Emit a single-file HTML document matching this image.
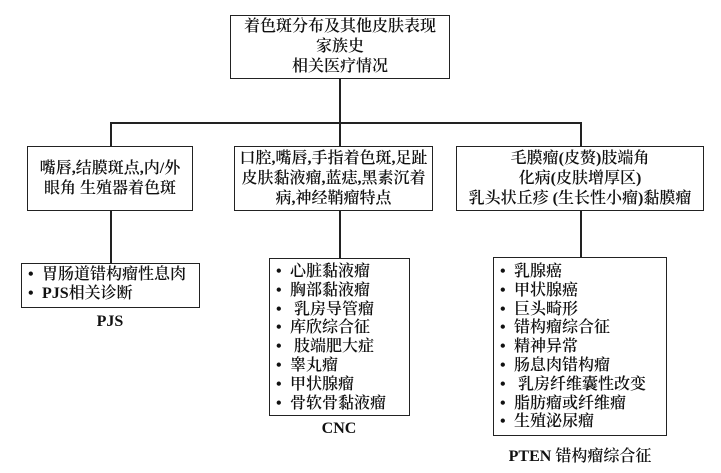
<!DOCTYPE html>
<html><head><meta charset="utf-8"><style>
html,body{margin:0;padding:0;background:#fff;}
body{width:721px;height:473px;position:relative;overflow:hidden;font-family:"Liberation Serif","Noto Serif CJK SC",serif;color:#111;font-weight:600;}
.b{position:absolute;border:1.5px solid #222;box-sizing:border-box;}
.c{text-align:center;font-size:16px;line-height:20px;display:flex;flex-direction:column;justify-content:center;align-items:center;}
.l{position:absolute;background:#222;}
ul{list-style:none;margin:0;padding:0;}
.list{font-size:16px;line-height:18.8px;padding-left:6px;padding-top:4px;}
.list li::before{content:"•";display:inline-block;width:14px;}
.lab{position:absolute;font-size:16px;text-align:center;}
</style></head><body>
<div class="b c" style="left:230px;top:15px;width:220px;height:64px;"><div>着色斑分布及其他皮肤表现</div><div>家族史</div><div>相关医疗情况</div></div>
<div class="l" style="left:339px;top:78px;width:1.5px;height:46px;"></div>
<div class="l" style="left:110px;top:122px;width:471px;height:1.5px;"></div>
<div class="l" style="left:110px;top:122px;width:1.5px;height:25px;"></div>
<div class="l" style="left:339px;top:122px;width:1.5px;height:25px;"></div>
<div class="l" style="left:580px;top:122px;width:1.5px;height:25px;"></div>
<div class="b c" style="left:27px;top:146px;width:166px;height:65px;"><div>嘴唇,结膜斑点,内/外</div><div>眼角 生殖器着色斑</div></div>
<div class="b c" style="left:234px;top:146px;width:199px;height:65px;"><div>口腔,嘴唇,手指着色斑,足趾</div><div>皮肤黏液瘤,蓝痣,黑素沉着</div><div>病,神经鞘瘤特点</div></div>
<div class="b c" style="left:456px;top:146px;width:248px;height:65px;"><div>毛膜瘤(皮赘)肢端角</div><div>化病(皮肤增厚区)</div><div>乳头状丘疹 (生长性小瘤)黏膜瘤</div></div>
<div class="l" style="left:110px;top:210px;width:1.5px;height:54px;"></div>
<div class="l" style="left:339px;top:210px;width:1.5px;height:49px;"></div>
<div class="l" style="left:580px;top:210px;width:1.5px;height:48px;"></div>
<div class="b list" style="left:21px;top:263px;width:179px;height:45px;padding-top:2px;"><ul><li>胃肠道错构瘤性息肉</li><li>PJS相关诊断</li></ul></div>
<div class="lab" style="left:60px;top:313px;width:100px;">PJS</div>
<div class="b list" style="left:269px;top:258px;width:141px;height:158px;"><ul><li>心脏黏液瘤</li><li>胸部黏液瘤</li><li>&nbsp;乳房导管瘤</li><li>库欣综合征</li><li>&nbsp;肢端肥大症</li><li>睾丸瘤</li><li>甲状腺瘤</li><li>骨软骨黏液瘤</li></ul></div>
<div class="lab" style="left:289px;top:420px;width:100px;">CNC</div>
<div class="b list" style="left:493px;top:257px;width:174px;height:179px;padding-top:5px;"><ul><li>乳腺癌</li><li>甲状腺癌</li><li>巨头畸形</li><li>错构瘤综合征</li><li>精神异常</li><li>肠息肉错构瘤</li><li>&nbsp;乳房纤维囊性改变</li><li>脂肪瘤或纤维瘤</li><li>生殖泌尿瘤</li></ul></div>
<div class="lab" style="left:480px;top:443px;width:200px;">PTEN 错构瘤综合征</div>
</body></html>
